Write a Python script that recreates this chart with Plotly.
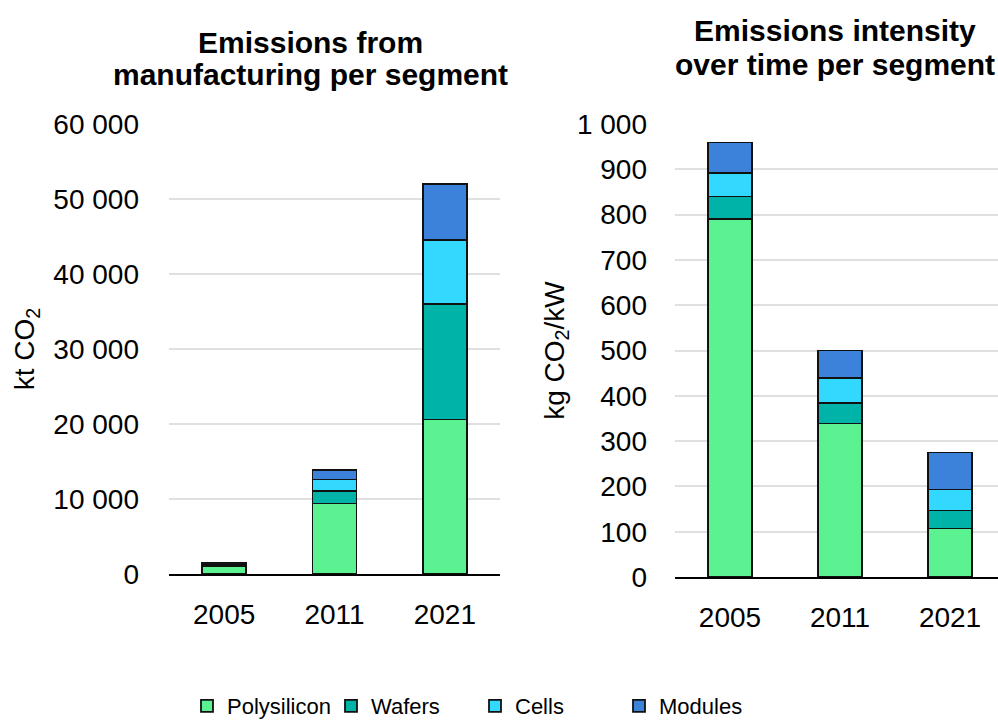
import plotly.graph_objects as go

years = ["2005", "2011", "2021"]
segments = ["Polysilicon", "Wafers", "Cells", "Modules"]
colors = ["#5BF291", "#00B3A8", "#33D8FF", "#3C82DA"]

# Emissions from manufacturing (kt CO2)
manuf_poly = [1050, 9400, 20600]
manuf_wafers = [150, 1700, 15400]
manuf_cells = [100, 1500, 8500]
manuf_modules = [150, 1250, 7450]

# Emissions intensity (kg CO2/kW)
int_poly = [791, 339, 107]
int_wafers = [49, 46, 40]
int_cells = [52, 54, 46]
int_modules = [67, 61, 82]

left_ticks = [0, 10000, 20000, 30000, 40000, 50000, 60000]
left_ticktext = ["0", "10 000", "20 000", "30 000", "40 000", "50 000", "60 000"]
right_ticks = [0, 100, 200, 300, 400, 500, 600, 700, 800, 900, 1000]
right_ticktext = ["0", "100", "200", "300", "400", "500", "600", "700", "800", "900", "1 000"]

manuf = [manuf_poly, manuf_wafers, manuf_cells, manuf_modules]
inten = [int_poly, int_wafers, int_cells, int_modules]

FONT = "Liberation Sans, Arial, sans-serif"
W, H = 998, 720

fig = go.Figure()
for i, seg in enumerate(segments):
    fig.add_trace(go.Bar(x=years, y=manuf[i], name=seg,
                         marker=dict(color=colors[i], line=dict(color="#111111", width=1.8)),
                         width=0.4, xaxis="x", yaxis="y", legendgroup=seg, showlegend=True))
for i, seg in enumerate(segments):
    fig.add_trace(go.Bar(x=years, y=inten[i], name=seg,
                         marker=dict(color=colors[i], line=dict(color="#111111", width=1.8)),
                         width=0.4, xaxis="x2", yaxis="y2", legendgroup=seg, showlegend=False))

tickfont = dict(family=FONT, size=28, color="#000000")
common_y = dict(showgrid=True, gridcolor="#E0E0E0", gridwidth=2, zeroline=False, showline=False,
                tickfont=tickfont, ticks="")
common_x = dict(showline=True, linecolor="#000000", linewidth=2, tickfont=tickfont, ticks="",
                type="category", ticklabelstandoff=14)

fig.update_layout(
    width=W, height=H,
    margin=dict(l=0, r=0, t=0, b=0, autoexpand=False),
    paper_bgcolor="white", plot_bgcolor="white",
    barmode="stack",
    font=dict(family=FONT, color="#000000"),
    xaxis=dict(domain=[169 / W, 500 / W], range=[-0.5, 2.5], anchor="y", **common_x),
    yaxis=dict(domain=[(H - 574) / H, (H - 124) / H], range=[0, 60000],
               tickvals=left_ticks, ticktext=left_ticktext, anchor="x", ticklabelstandoff=29,
               title=dict(text="kt CO<sub>2</sub>", font=dict(family=FONT, size=28), standoff=10),
               **common_y),
    xaxis2=dict(domain=[675 / W, 1.0], range=[-0.5, 2.436], anchor="y2", **common_x),
    yaxis2=dict(domain=[(H - 577) / H, (H - 124) / H], range=[0, 1000],
                tickvals=right_ticks, ticktext=right_ticktext, anchor="x2", ticklabelstandoff=27,
                title=dict(text="kg CO<sub>2</sub>/kW", font=dict(family=FONT, size=28), standoff=4),
                **common_y),
    legend=dict(orientation="h", x=187 / W, xanchor="left", y=(H - 706) / H, yanchor="middle",
                font=dict(family=FONT, size=22, color="#000000"), entrywidth=99,
                entrywidthmode="pixels", traceorder="normal"),
    annotations=[
        dict(text="<b>Emissions from</b>", x=310 / W, y=(H - 42) / H, xref="paper", yref="paper",
             xanchor="center", yanchor="middle", showarrow=False,
             font=dict(family=FONT, size=30, color="#000000")),
        dict(text="<b>manufacturing per segment</b>", x=310 / W, y=(H - 75) / H, xref="paper", yref="paper",
             xanchor="center", yanchor="middle", showarrow=False,
             font=dict(family=FONT, size=30, color="#000000")),
        dict(text="<b>Emissions intensity</b>", x=835 / W, y=(H - 31) / H, xref="paper", yref="paper",
             xanchor="center", yanchor="middle", showarrow=False,
             font=dict(family=FONT, size=30, color="#000000")),
        dict(text="<b>over time per segment</b>", x=835 / W, y=(H - 64) / H, xref="paper", yref="paper",
             xanchor="center", yanchor="middle", showarrow=False,
             font=dict(family=FONT, size=30, color="#000000")),
    ],
)

fig.write_html("out.html", config={"displayModeBar": False},
               post_script="document.body.style.margin='0px';")
